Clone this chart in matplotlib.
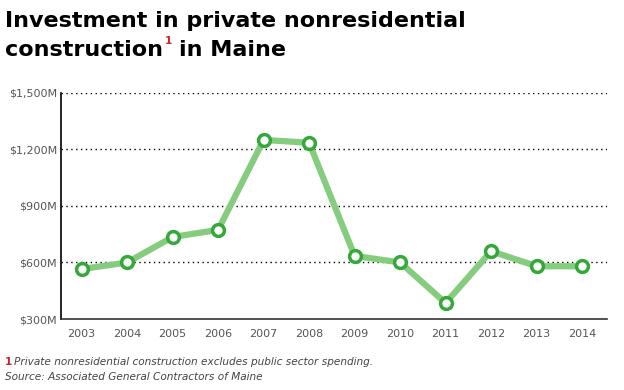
import matplotlib.pyplot as plt

years = ['2003', '2004', '2005', '2006', '2007', '2008', '2009', '2010', '2011', '2012', '2013', '2014']
investment = [565, 600, 735, 773, 1250, 1235, 635, 600, 385, 660, 580, 580]
yticks = [300, 600, 900, 1200, 1500]
ytick_labels = ['$300M', '$600M', '$900M', '$1,200M', '$1,500M']

plt.rcParams['font.family'] = ['DejaVu Sans']

fig = plt.figure(figsize=(6.24, 3.9), dpi=100)
ax = fig.add_axes([0.098, 0.182, 0.875, 0.58])

x = list(range(len(years)))
ax.plot(x, investment, color='#86cc7f', lw=4.5, solid_capstyle='round', zorder=3)
ax.plot(x, investment, ls='none', marker='o', ms=8.5, mfc='white', mec='#35a83a', mew=2.5, zorder=4)

ax.set_ylim(300, 1500)
ax.set_xlim(-0.45, len(years) - 0.45)
ax.set_yticks(yticks)
ax.set_yticklabels(ytick_labels)
ax.set_xticks(x)
ax.set_xticklabels(years)
ax.tick_params(axis='both', length=0, labelsize=8, labelcolor='#555555')
ax.tick_params(axis='x', pad=7)
ax.tick_params(axis='y', pad=3)
for v in yticks[1:]:
    ax.axhline(v, color='black', lw=1, ls=(0, (1, 2.5)), zorder=1)
ax.spines['top'].set_visible(False)
ax.spines['right'].set_visible(False)
ax.spines['left'].set_linewidth(1.2)
ax.spines['left'].set_color('black')
ax.spines['bottom'].set_linewidth(1.2)
ax.spines['bottom'].set_color('#333333')

fig.text(0.008, 0.931, 'Investment in private nonresidential', fontsize=16, fontweight='bold', ha='left', va='baseline')
t = fig.text(0.008, 0.856, 'construction', fontsize=16, fontweight='bold', ha='left', va='baseline')
fig.canvas.draw()
bb = t.get_window_extent()
x1 = bb.x1 / fig.bbox.width
fig.text(x1 + 0.003, 0.887, '1', fontsize=7.5, fontweight='bold', color='#d0202a', ha='left', va='baseline')
fig.text(x1 + 0.026, 0.856, 'in Maine', fontsize=16, fontweight='bold', ha='left', va='baseline')

fig.text(0.008, 0.064, '1', fontsize=7.6, fontweight='bold', color='#d0202a', ha='left', va='baseline')
fig.text(0.023, 0.064, 'Private nonresidential construction excludes public sector spending.', fontsize=7.6,
         style='italic', color='#444444', ha='left', va='baseline')
fig.text(0.008, 0.026, 'Source: Associated General Contractors of Maine', fontsize=7.6,
         style='italic', color='#444444', ha='left', va='baseline')

fig.savefig('out.png', dpi=100)
